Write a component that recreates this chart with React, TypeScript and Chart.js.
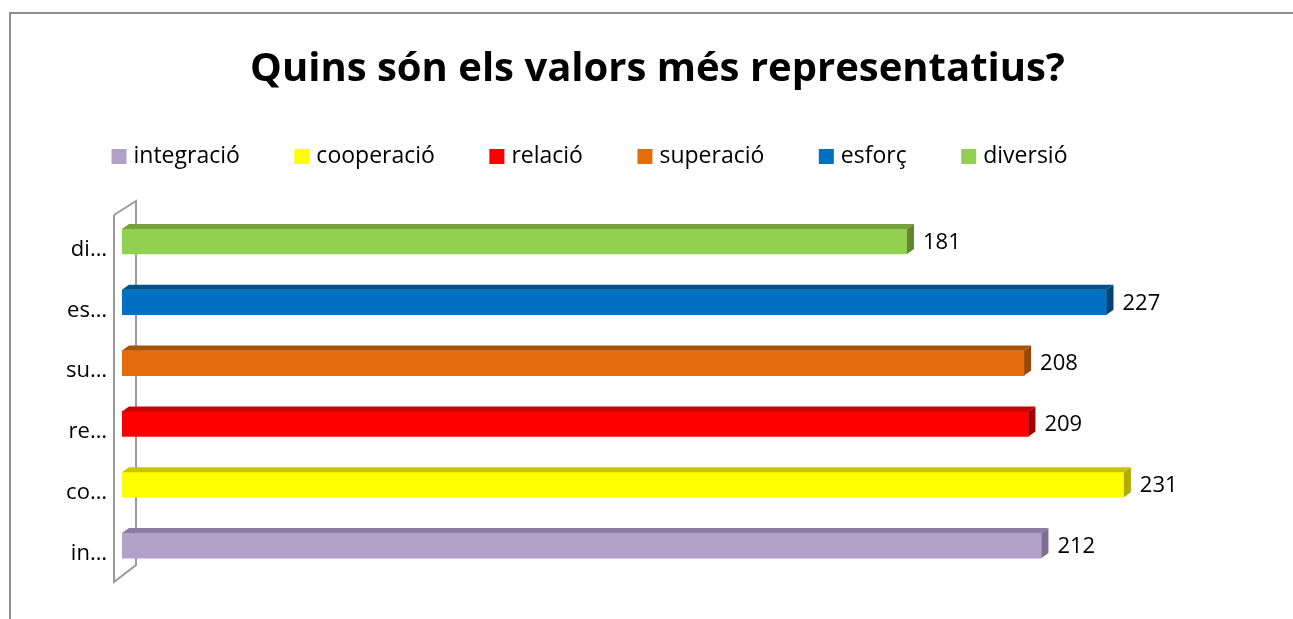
import React, { useEffect, useRef } from "react";
import { Chart, registerables } from "chart.js";

Chart.register(...registerables);

const TITLE = "Quins són els valors més representatius?";
const categories = ["integració", "cooperació", "relació", "superació", "esforç", "diversió"];
const values = [212, 231, 209, 208, 227, 181];
const frontColors = ["#B3A2C7", "#FFFF00", "#FF0000", "#E46C0A", "#0070C0", "#92D050"];
const topColors = ["#8B7CA0", "#C8C400", "#C80000", "#A9520A", "#00508A", "#76A03C"];
const sideColors = ["#7D6E92", "#B0AC00", "#A00000", "#984A08", "#004276", "#62862F"];

const FONT = '"Open Sans", "Noto Sans", sans-serif';
const DEPTH_X = 7;
const DEPTH_Y = 5;

const threeDPlugin = {
  id: "threeD",
  beforeDraw(chart: any) {
    const ctx = chart.ctx;
    ctx.save();
    ctx.fillStyle = "#ffffff";
    ctx.fillRect(0, 0, chart.width, chart.height);
    ctx.strokeStyle = "#8E8E8E";
    ctx.lineWidth = 2;
    ctx.beginPath();
    ctx.moveTo(10, chart.height + 2);
    ctx.lineTo(10, 13);
    ctx.lineTo(chart.width + 2, 13);
    ctx.stroke();
    ctx.restore();
  },
  beforeDatasetsDraw(chart: any) {
    const { ctx, chartArea } = chart;
    const { left, top, bottom } = chartArea;
    ctx.save();
    ctx.strokeStyle = "#9A9A9A";
    ctx.lineWidth = 2;
    ctx.beginPath();
    ctx.moveTo(left - 8, top + 4);
    ctx.lineTo(left - 8, bottom + 6);
    ctx.lineTo(left + 14, bottom - 11);
    ctx.lineTo(left + 14, top - 10);
    ctx.lineTo(left - 8, top + 4);
    ctx.stroke();
    ctx.restore();
  },
  afterDatasetsDraw(chart: any) {
    const ctx = chart.ctx;
    const meta = chart.getDatasetMeta(0);
    ctx.save();
    meta.data.forEach((el: any, i: number) => {
      const p = el.getProps(["x", "y", "base", "height"], true);
      const t = p.y - p.height / 2;
      const b = p.y + p.height / 2;
      const l = p.base;
      const r = p.x;
      // top face
      ctx.fillStyle = topColors[i];
      ctx.beginPath();
      ctx.moveTo(l, t);
      ctx.lineTo(l + DEPTH_X, t - DEPTH_Y);
      ctx.lineTo(r + DEPTH_X, t - DEPTH_Y);
      ctx.lineTo(r, t);
      ctx.closePath();
      ctx.fill();
      // side face
      ctx.fillStyle = sideColors[i];
      ctx.beginPath();
      ctx.moveTo(r, t);
      ctx.lineTo(r + DEPTH_X, t - DEPTH_Y);
      ctx.lineTo(r + DEPTH_X, b - DEPTH_Y);
      ctx.lineTo(r, b);
      ctx.closePath();
      ctx.fill();
      // data label
      ctx.fillStyle = "#000000";
      ctx.font = `22px ${FONT}`;
      ctx.textAlign = "left";
      ctx.textBaseline = "middle";
      ctx.fillText(String(values[i]), r + DEPTH_X + 9, p.y + 1);
    });
    ctx.restore();
  },
  afterDraw(chart: any) {
    const ctx = chart.ctx;
    ctx.save();
    ctx.font = `23px ${FONT}`;
    const box = 15;
    const boxGap = 7;
    const itemGap = 54.5;
    const widths = categories.map((c) => ctx.measureText(c).width);
    const total =
      widths.reduce((a, w) => a + box + boxGap + w, 0) + itemGap * (categories.length - 1);
    let x = 589.5 - total / 2;
    const cy = 156.5;
    categories.forEach((c, i) => {
      ctx.fillStyle = frontColors[i];
      ctx.fillRect(x, cy - box / 2, box, box);
      ctx.fillStyle = "#000000";
      ctx.textAlign = "left";
      ctx.textBaseline = "middle";
      ctx.fillText(c, x + box + boxGap, cy);
      x += box + boxGap + widths[i] + itemGap;
    });
    ctx.restore();
  },
};

export default function App() {
  const ref = useRef<HTMLCanvasElement>(null);
  useEffect(() => {
    if (!ref.current) return;
    const chart = new Chart(ref.current, {
      type: "bar",
      data: {
        labels: categories,
        datasets: [
          {
            label: "valors",
            data: values,
            backgroundColor: frontColors,
            borderWidth: 0,
            barThickness: 25,
          },
        ],
      },
      options: {
        responsive: false,
        animation: false,
        indexAxis: "y",
        layout: { padding: { left: 22, right: 0, top: 0, bottom: 43 } },
        plugins: {
          legend: { display: false },
          tooltip: { enabled: false },
          title: {
            display: true,
            text: TITLE,
            color: "#000000",
            font: { family: FONT, size: 40, weight: "bold" },
            padding: { top: 46, bottom: 117 },
          },
        },
        scales: {
          x: { display: false, min: 0, max: 270 },
          y: {
            reverse: true,
            grid: { display: false, drawTicks: false },
            border: { display: false },
            afterFit: (scale: any) => {
              scale.width = 100;
            },
            ticks: {
              color: "#000000",
              font: { family: FONT, size: 22 },
              padding: 15,
              labelOffset: 8,
              callback: function (this: any, v: any) {
                const s = String(this.getLabelForValue(v));
                return s.slice(0, 2) + "…";
              },
            },
          },
        },
      },
      plugins: [threeDPlugin],
    });
    return () => chart.destroy();
  }, []);
  return (
    <div style={{ position: "absolute", left: 0, top: 0, width: 1293, height: 619, background: "#fff" }}>
      <canvas ref={ref} width={1293} height={619} style={{ display: "block" }} />
    </div>
  );
}
